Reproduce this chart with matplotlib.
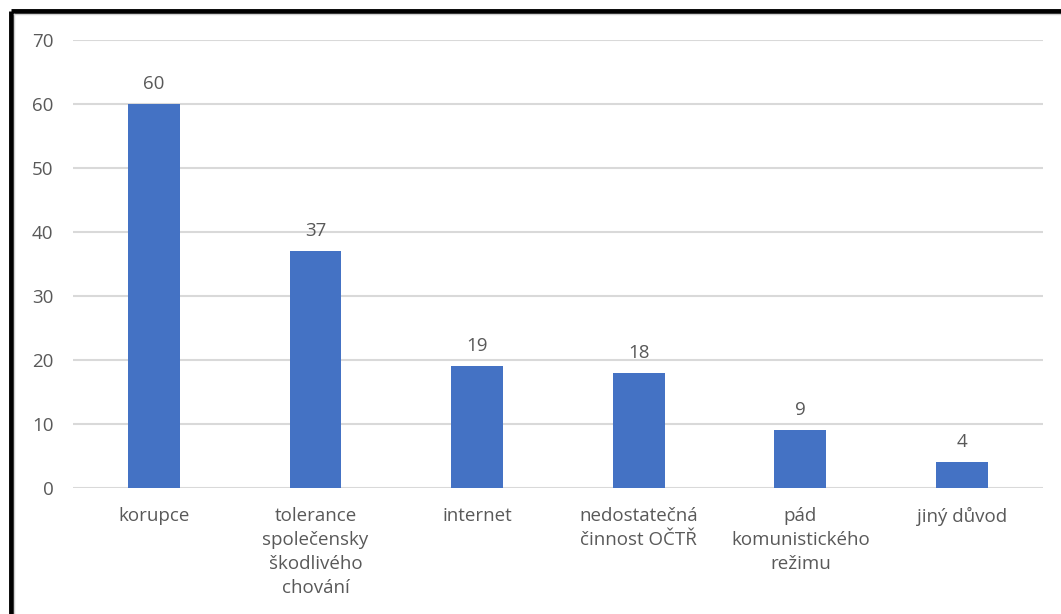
import matplotlib.pyplot as plt
from matplotlib.lines import Line2D

plt.rcParams['font.family'] = ['Open Sans', 'DejaVu Sans']

categories = ['korupce', 'tolerance\nspolečensky\nškodlivého\nchování', 'internet',
              'nedostatečná\nčinnost OČTŘ', 'pád\nkomunistického\nrežimu', 'jiný důvod']
values = [60, 37, 19, 18, 9, 4]
yticks = [0, 10, 20, 30, 40, 50, 60, 70]

text_color = '#595959'
bar_color = '#4472C4'
grid_color = '#D9D9D9'
fs = 13.5

fig = plt.figure(figsize=(10.61, 6.14), dpi=100)
ax = fig.add_axes([0.0688, 0.2052, 0.914, 0.7296])

x = range(len(categories))
bars = ax.bar(x, values, width=0.32, color=bar_color, zorder=3)

for b, v in zip(bars, values):
    ax.annotate(str(v), (b.get_x() + b.get_width() / 2, v), xytext=(0, 8),
                textcoords='offset points', ha='center', va='bottom',
                fontsize=fs, color=text_color)

ax.set_xlim(-0.5, len(categories) - 0.5)
ax.set_ylim(0, 70)
ax.set_yticks(yticks)
ax.set_xticks(list(x))
ax.set_xticklabels(categories, linespacing=1.42)
ax.tick_params(axis='both', length=0, colors=text_color, labelsize=fs)
ax.tick_params(axis='x', pad=14)
ax.tick_params(axis='y', pad=14)
ax.grid(axis='y', color=grid_color, linewidth=1.5, zorder=0)
for s in ax.spines.values():
    s.set_visible(False)

# black frame on top and left edge
fig.add_artist(Line2D([0.0099, 1.0], [0.9821, 0.9821], color='black', linewidth=3.5,
                      transform=fig.transFigure, solid_capstyle='butt'))
fig.add_artist(Line2D([0.0099, 0.0099], [0.0, 0.9821], color='black', linewidth=3.5,
                      transform=fig.transFigure, solid_capstyle='butt'))
fig.add_artist(Line2D([0.0135, 1.0], [0.9765, 0.9765], color='#D0D0D0', linewidth=1,
                      transform=fig.transFigure))
fig.add_artist(Line2D([0.0135, 0.0135], [0.0, 0.9765], color='#D0D0D0', linewidth=1,
                      transform=fig.transFigure))

fig.savefig('out.png', dpi=100)
